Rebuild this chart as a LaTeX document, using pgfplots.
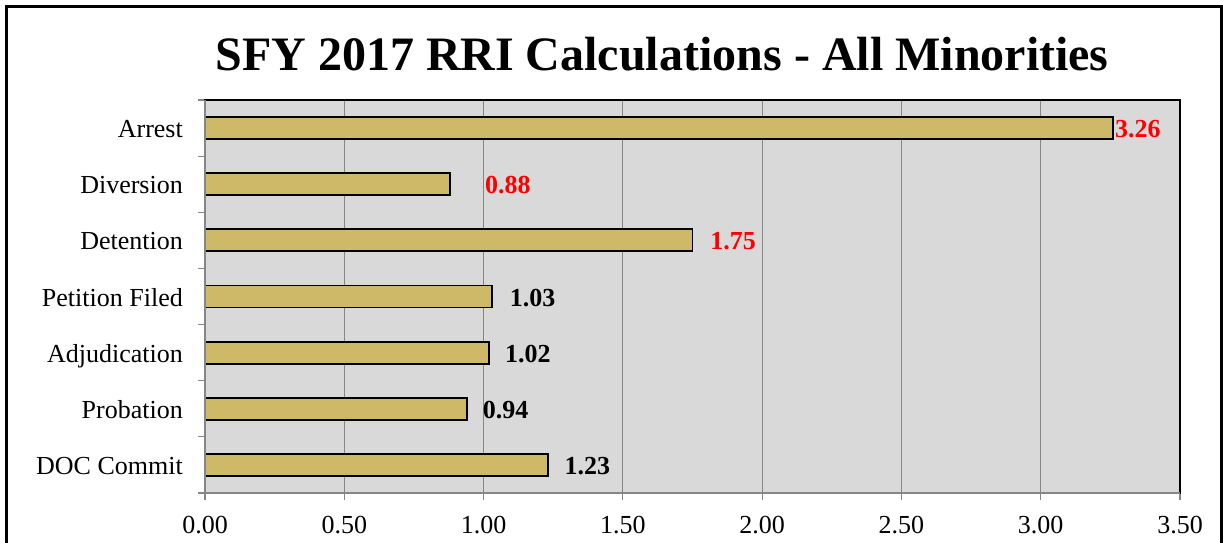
\documentclass[border=0pt]{standalone}
\usepackage{fontspec}
\setmainfont{Liberation Serif}
\usepackage{pgfplots}
\usepackage{pgfplotstable}
\pgfplotsset{compat=1.18}
\definecolor{bartan}{RGB}{205,185,104}
\definecolor{plotbg}{RGB}{217,217,217}
\definecolor{gridgray}{RGB}{134,134,134}
\pgfplotstableread{
y x dx
6 3.26 1
5 0.88 34
4 1.75 17
}\redtab
\pgfplotstableread{
y x dx
3 1.03 17
2 1.02 15
1 0.94 15
0 1.23 16
}\blacktab
\begin{document}
\begin{tikzpicture}[x=1pt,y=1pt]
\path[use as bounding box] (0,0) rectangle (1223,-542);
\draw[line width=3pt] (6,-560)--(6,-6)--(1221,-6)--(1221,-560);
\node[font=\fontsize{48}{56}\selectfont\bfseries, anchor=base, inner sep=0pt] at (662,-70) {SFY 2017 RRI Calculations - All Minorities};
\begin{axis}[
  at={(205pt,-493pt)}, anchor=south west,
  scale only axis, width=975pt, height=393pt,
  xmin=0, xmax=3.5, ymin=-0.5, ymax=6.5,
  xbar, bar width=22pt, bar shift=0pt,
  axis background/.style={fill=plotbg},
  axis line style={black, line width=1.5pt},
  xtick={0,0.5,1,1.5,2,2.5,3,3.5},
  xmajorgrids, grid style={gridgray, line width=1pt},
  ytick={-0.5,0.5,1.5,2.5,3.5,4.5,5.5,6.5},
  yticklabels={},
  extra y ticks={0,1,2,3,4,5,6},
  extra y tick labels={DOC Commit,Probation,Adjudication,Petition Filed,Detention,Diversion,Arrest},
  extra y tick style={tick style={draw=none}, yticklabel style={inner sep=0pt, xshift=-15pt, text height=17pt, text depth=0pt, yshift=-1pt}},
  tick style={gridgray, line width=1.2pt},
  tick align=outside, tick pos=left,
  major tick length=7pt,
  xticklabel={\pgfmathprintnumber[fixed,fixed zerofill,precision=2]{\tick}},
  /pgf/number format/assume math mode=true,
  ticklabel style={font=\fontsize{26}{30}\selectfont},
  xticklabel style={inner sep=0pt, yshift=-16pt},
  nodes near coords={\pgfmathprintnumber[fixed,fixed zerofill,precision=2]{\pgfplotspointmeta}},
  visualization depends on={\thisrow{dx} \as \dx},
  nodes near coords style={font=\fontsize{26}{30}\selectfont\bfseries, anchor=west, inner sep=0pt, xshift=\dx pt, text height=17pt, text depth=0pt, yshift=-1pt},
  clip=false,
]
\addplot[draw=black, line width=1.8pt, fill=bartan, nodes near coords style={text=red}] table[x=x, y=y] {\redtab};
\addplot[draw=black, line width=1.8pt, fill=bartan, nodes near coords style={text=black}] table[x=x, y=y] {\blacktab};
\draw[gridgray, line width=1.5pt] (rel axis cs:0,1)--(rel axis cs:0,0)--(rel axis cs:1,0);
\end{axis}
\end{tikzpicture}
\end{document}
